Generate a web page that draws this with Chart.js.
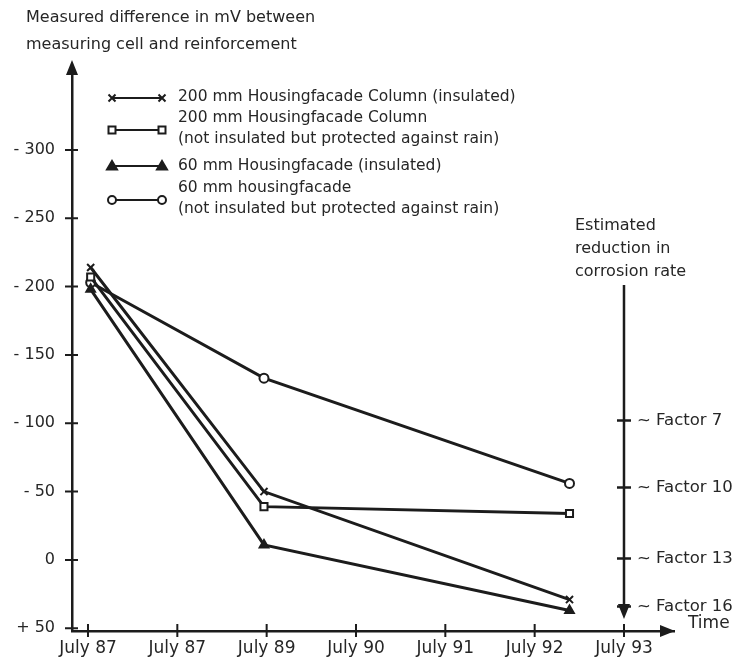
<!DOCTYPE html>
<html>
<head>
<meta charset="utf-8">
<script src="https://cdn.jsdelivr.net/npm/chart.js@4.4.1/dist/chart.umd.min.js"></script>
<style>
  html, body { margin: 0; padding: 0; background: #fff; }
  #wrap { width: 736px; height: 663px; }
</style>
</head>
<body>
<div id="wrap"><canvas id="chart"></canvas></div>
<script>
// Eixo x em anos depois de julho 87
const xTickValues = [0, 1, 2, 3, 4, 5, 6];
const xTickLabels = ['July 87', 'July 87', 'July 89', 'July 90', 'July 91', 'July 92', 'July 93'];
const yTickValues = [-300, -250, -200, -150, -100, -50, 0, 50];

const measureTimes = [0.03, 1.97, 5.39];
const col200Insulated = [-214, -50, 29];
const col200Sheltered = [-207, -39, -34];
const facade60Insulated = [-198, -11, 37];
const facade60Sheltered = [-203, -133, -56];

const seriesLabels = [
  ['200 mm Housingfacade Column (insulated)'],
  ['200 mm Housingfacade Column', '(not insulated but protected against rain)'],
  ['60 mm Housingfacade (insulated)'],
  ['60 mm housingfacade', '(not insulated but protected against rain)']
];
const seriesMarkers = ['crossRot', 'rect', 'triangle', 'circle'];

const factorLabels = ['~ Factor 7', '~ Factor 10', '~ Factor 13', '~ Factor 16'];
const factorLevels = [-102, -53, -1, 34];

const yTitle = ['Measured difference in mV between', 'measuring cell and reinforcement'];
const reductionTitle = ['Estimated', 'reduction in', 'corrosion rate'];

const ink = '#1c1c1c';
const textInk = '#262626';
const font = '"DejaVu Sans", sans-serif';

function toPoints(values) {
  return values.map((v, i) => ({ x: measureTimes[i], y: v }));
}

function makeSeries(i, values) {
  const style = seriesMarkers[i];
  return {
    label: seriesLabels[i].join(' '),
    data: toPoints(values),
    borderColor: ink,
    borderWidth: 3,
    tension: 0,
    pointStyle: style,
    pointRadius: style === 'circle' ? 4.5 : 5,
    pointBorderWidth: 2,
    pointBorderColor: ink,
    pointBackgroundColor: style === 'triangle' ? ink : '#fff'
  };
}

// Marcador da legenda
function drawMarker(ctx, style, x, y) {
  ctx.save();
  ctx.lineWidth = 2;
  ctx.strokeStyle = ink;
  ctx.fillStyle = '#fff';
  ctx.beginPath();
  if (style === 'crossRot') {
    ctx.moveTo(x - 3.5, y - 3.5); ctx.lineTo(x + 3.5, y + 3.5);
    ctx.moveTo(x + 3.5, y - 3.5); ctx.lineTo(x - 3.5, y + 3.5);
    ctx.stroke();
  } else if (style === 'rect') {
    ctx.rect(x - 3.5, y - 3.5, 7, 7);
    ctx.fill(); ctx.stroke();
  } else if (style === 'triangle') {
    ctx.fillStyle = ink;
    ctx.moveTo(x, y - 5); ctx.lineTo(x + 5, y + 3.5); ctx.lineTo(x - 5, y + 3.5);
    ctx.closePath(); ctx.fill(); ctx.stroke();
  } else {
    ctx.arc(x, y, 4, 0, Math.PI * 2);
    ctx.fill(); ctx.stroke();
  }
  ctx.restore();
}

function arrowHead(ctx, tipX, tipY, dir) {
  ctx.beginPath();
  if (dir === 'up') {
    ctx.moveTo(tipX, tipY); ctx.lineTo(tipX + 6, tipY + 15); ctx.lineTo(tipX - 6, tipY + 15);
  } else if (dir === 'down') {
    ctx.moveTo(tipX, tipY); ctx.lineTo(tipX + 6, tipY - 15); ctx.lineTo(tipX - 6, tipY - 15);
  } else {
    ctx.moveTo(tipX, tipY); ctx.lineTo(tipX - 15, tipY - 6); ctx.lineTo(tipX - 15, tipY + 6);
  }
  ctx.closePath();
  ctx.fill();
}

const decorations = {
  id: 'decorations',
  afterDraw(chart) {
    const { ctx, chartArea, scales } = chart;
    const x = scales.x, y = scales.y;
    ctx.save();
    ctx.fillStyle = ink;
    ctx.strokeStyle = ink;
    ctx.lineWidth = 2;

    // setas dos eixos
    arrowHead(ctx, chartArea.left, chartArea.top - 10, 'up');
    ctx.fillRect(chartArea.left - 1, chartArea.top - 2, 2.5, 4);
    ctx.fillRect(chartArea.right - 2, chartArea.bottom - 1, 12, 2.5);
    arrowHead(ctx, chartArea.right + 10, chartArea.bottom, 'right');

    // marcas cruzando os eixos
    ctx.beginPath();
    yTickValues.forEach(v => {
      const py = y.getPixelForValue(v);
      ctx.moveTo(chartArea.left - 7, py); ctx.lineTo(chartArea.left + 6, py);
    });
    xTickValues.forEach(v => {
      const px = x.getPixelForValue(v);
      ctx.moveTo(px, chartArea.bottom - 7); ctx.lineTo(px, chartArea.bottom + 6);
    });
    ctx.stroke();

    // títulos
    ctx.fillStyle = textInk;
    ctx.font = '16px ' + font;
    ctx.textBaseline = 'middle';
    ctx.textAlign = 'left';
    ctx.fillText(yTitle[0], 26, 18);
    ctx.fillText(yTitle[1], 26, 45);
    ctx.font = '17px ' + font;
    ctx.fillText('Time', 688, chartArea.bottom - 7);

    // legenda
    const legendY = [98, 130, 166, 200];
    const textY = [[97], [118, 139], [166], [188, 209]];
    ctx.font = '15.5px ' + font;
    seriesLabels.forEach((lines, i) => {
      ctx.strokeStyle = ink;
      ctx.lineWidth = 2;
      ctx.beginPath();
      ctx.moveTo(112, legendY[i]); ctx.lineTo(162, legendY[i]);
      ctx.stroke();
      drawMarker(ctx, seriesMarkers[i], 112, legendY[i]);
      drawMarker(ctx, seriesMarkers[i], 162, legendY[i]);
      ctx.fillStyle = textInk;
      lines.forEach((t, j) => ctx.fillText(t, 178, textY[i][j]));
    });

    // seta de redução estimada
    const rx = x.getPixelForValue(6);
    ctx.font = '16px ' + font;
    reductionTitle.forEach((t, j) => ctx.fillText(t, 575, 226 + j * 23));
    ctx.strokeStyle = ink;
    ctx.fillStyle = ink;
    ctx.lineWidth = 2.5;
    ctx.beginPath();
    ctx.moveTo(rx, 285); ctx.lineTo(rx, 606);
    factorLevels.forEach(v => {
      const py = y.getPixelForValue(v);
      ctx.moveTo(rx - 7, py); ctx.lineTo(rx + 7, py);
    });
    ctx.stroke();
    arrowHead(ctx, rx, 619, 'down');
    ctx.fillStyle = textInk;
    ctx.font = '16.5px ' + font;
    factorLabels.forEach((t, i) => ctx.fillText(t, rx + 13, y.getPixelForValue(factorLevels[i])));
    ctx.restore();
  }
};

new Chart(document.getElementById('chart'), {
  type: 'line',
  data: {
    datasets: [
      makeSeries(0, col200Insulated),
      makeSeries(1, col200Sheltered),
      makeSeries(2, facade60Insulated),
      makeSeries(3, facade60Sheltered)
    ]
  },
  options: {
    responsive: true,
    maintainAspectRatio: false,
    animation: false,
    layout: { padding: { top: 70, right: 71, left: 0, bottom: 0 } },
    plugins: {
      legend: { display: false },
      tooltip: { enabled: false }
    },
    scales: {
      x: {
        type: 'linear',
        min: -0.179,
        max: 6.459,
        afterBuildTicks: s => { s.ticks = xTickValues.map(v => ({ value: v })); },
        afterFit: s => { s.height = 32; },
        ticks: {
          autoSkip: false,
          maxRotation: 0,
          padding: 7,
          color: textInk,
          font: { family: font, size: 17 },
          callback: (v, i) => xTickLabels[i]
        },
        grid: { display: true, drawOnChartArea: false, drawTicks: false },
        border: { display: true, color: ink, width: 2.5 }
      },
      y: {
        type: 'linear',
        reverse: true,
        min: -358.5,
        max: 52,
        afterBuildTicks: s => { s.ticks = yTickValues.map(v => ({ value: v })); },
        afterFit: s => { s.width = 72; },
        ticks: {
          padding: 17,
          color: textInk,
          font: { family: font, size: 16 },
          callback: v => v < 0 ? '- ' + (-v) : (v > 0 ? '+ ' + v : '0')
        },
        grid: { display: true, drawOnChartArea: false, drawTicks: false },
        border: { display: true, color: ink, width: 2.5 }
      }
    }
  },
  plugins: [decorations]
});
</script>
</body>
</html>
